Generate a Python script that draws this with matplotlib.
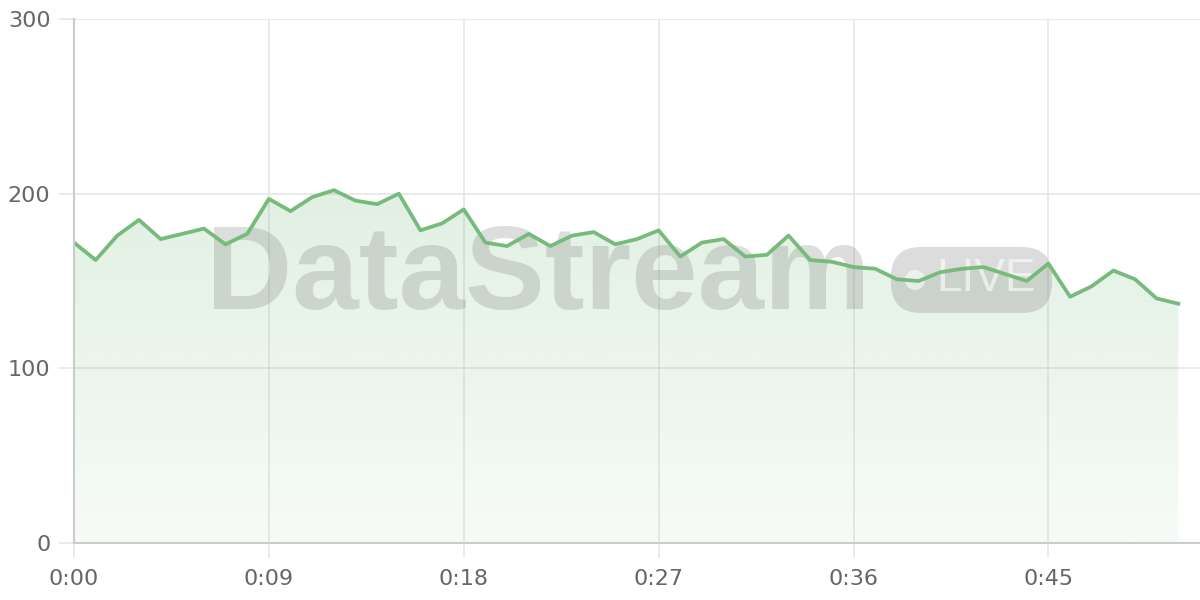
import matplotlib
matplotlib.use("Agg")
import matplotlib.pyplot as plt
import numpy as np
from matplotlib.patches import FancyBboxPatch, Circle, Polygon
from matplotlib.transforms import IdentityTransform

# ---- data ----
minutes = list(range(52))
values = [172, 162, 176, 185, 174, 177, 180, 171, 177, 197,
          190, 198, 202, 196, 194, 200, 179, 183, 191, 172,
          170, 177, 170, 176, 178, 171, 174, 179, 164, 172,
          174, 164, 165, 176, 162, 161, 158, 157, 151, 150,
          155, 157, 158, 154, 150, 160, 141, 147, 156, 151,
          140, 137]
x_ticks = [0, 9, 18, 27, 36, 45]
x_tick_labels = ["0:00", "0:09", "0:18", "0:27", "0:36", "0:45"]
y_ticks = [0, 100, 200, 300]
y_tick_labels = ["0", "100", "200", "300"]
watermark = "DataStream"
badge_text = "LIVE"

LINE = "#76bb7b"
GRID = "#e6e6e6"
SPINE = "#cccccc"
TXT = "#666666"

plt.rcParams['font.family'] = ['DejaVu Sans']
fig = plt.figure(figsize=(12, 6), dpi=100)
ax = fig.add_axes([74/1200, 57/600, 1126/1200, 524/600])
ax.set_xlim(0, 52)
ax.set_ylim(0, 300)

x = np.array(minutes, dtype=float)
y = np.array(values, dtype=float)

# gradient fill under the line
poly = Polygon(np.column_stack([np.r_[x, x[::-1]], np.r_[y, np.zeros_like(y)]]),
               closed=True, facecolor='none', edgecolor='none')
ax.add_patch(poly)
grad = np.linspace(0, 1, 256).reshape(-1, 1)
rgba = np.zeros((256, 1, 4))
rgba[..., 0] = 0x76 / 255
rgba[..., 1] = 0xbb / 255
rgba[..., 2] = 0x7b / 255
rgba[..., 3] = 0.06 + 0.16 * grad[:, 0:1]
im = ax.imshow(rgba, extent=[x[0], x[-1], 0, y.max()], origin='lower',
               aspect='auto', zorder=1)
im.set_clip_path(poly)

ax.plot(x, y, color=LINE, lw=2.7, zorder=4)

# grid & spines
ax.set_xticks(x_ticks)
ax.set_xticklabels(x_tick_labels)
ax.set_yticks(y_ticks)
ax.set_yticklabels(y_tick_labels)
ax.grid(True, color=GRID, lw=1.2, zorder=0)
ax.set_axisbelow(True)
for s in ['top', 'right']:
    ax.spines[s].set_visible(False)
for s in ['left', 'bottom']:
    ax.spines[s].set_color(SPINE)
    ax.spines[s].set_linewidth(1.5)
    ax.spines[s].set_zorder(5)
ax.tick_params(axis='both', length=11, width=1.2, color=GRID,
               labelcolor=TXT, labelsize=16)
ax.tick_params(axis='x', pad=8)
ax.tick_params(axis='y', pad=6)

# watermark (pixel coordinates, drawn beneath the line)
T = IdentityTransform()
H = 600
ax.text(538, H - 279, watermark, fontsize=86, fontweight='bold',
        family=['Liberation Sans', 'DejaVu Sans'], color='#7f7f7f', alpha=0.26,
        ha='center', va='center', transform=T, zorder=3, clip_on=False)
badge = FancyBboxPatch((891, H - 313), 161, 66,
                       boxstyle="round,pad=0,rounding_size=30",
                       transform=T, facecolor='#7f7f7f',
                       alpha=0.27, edgecolor='none', zorder=3, clip_on=False)
ax.add_artist(badge)
ax.add_artist(Circle((915, H - 280), 10, transform=T, facecolor='white',
                     alpha=0.6, edgecolor='none', zorder=3, clip_on=False))
ax.text(986, H - 279, badge_text, fontsize=33, fontweight='light',
        family=['Liberation Sans', 'DejaVu Sans'], color='white', alpha=0.6,
        ha='center', va='center', transform=T, zorder=3, clip_on=False)

fig.savefig("out.png", dpi=100, facecolor='white')
